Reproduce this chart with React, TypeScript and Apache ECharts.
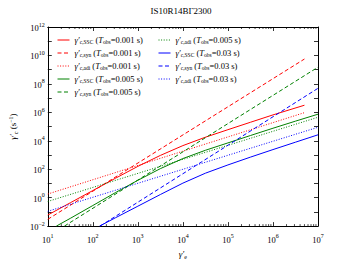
import React, { useEffect, useRef } from 'react';
import * as echarts from 'echarts';

const FONT = "'Liberation Serif', 'DejaVu Serif', serif";

// Red: T_obs = 0.001 s
const redSSCx = [10, 31.6, 100, 316, 1000, 3160, 1e4, 3.16e4, 1e5, 3.16e5, 1e6, 5e6];
const redSSCy = [0.06, 0.437, 3.16, 22.9, 158, 933, 4570, 1.78e4, 6.03e4, 2.0e5, 6.6e5, 3.16e6];
const redSynX = [10, 5e6];
const redSynY = [0.03, 5.6e9];
const redAdiX = [10, 5e6];
const redAdiY = [1.8, 9.5e5];
// Green: T_obs = 0.005 s
const greenSSCx = [15.5, 31.6, 100, 316, 1000, 3160, 1e4, 3.16e4, 1e5, 3.16e5, 1e6, 3.16e6, 1e7];
const greenSSCy = [0.01, 0.035, 0.28, 2.24, 16.6, 110, 562, 2140, 7080, 2.34e4, 7.6e4, 2.4e5, 7.4e5];
const greenSynX = [23.4, 1e7];
const greenSynY = [0.01, 1.5e9];
const greenAdiX = [10, 1e7];
const greenAdiY = [0.54, 4.5e5];
// Blue: T_obs = 0.03 s
const blueSSCx = [141, 316, 1000, 3160, 1e4, 3.16e4, 1e5, 3.16e5, 1e6, 3.16e6, 1e7];
const blueSSCy = [0.01, 0.038, 0.251, 1.66, 10.5, 52.5, 200, 708, 2400, 7940, 2.63e4];
const blueSynX = [145, 1e7];
const blueSynY = [0.01, 4.9e7];
const blueAdiX = [10, 1e7];
const blueAdiY = [0.11, 8.9e4];

const xLabelExps = [1, 2, 3, 4, 5, 6, 7];
const yLabelExps = [-2, 0, 2, 4, 6, 8, 10, 12];
const xMinorTicks = [
  20, 30, 40, 50, 60, 70, 80, 90,
  200, 300, 400, 500, 600, 700, 800, 900,
  2e3, 3e3, 4e3, 5e3, 6e3, 7e3, 8e3, 9e3,
  2e4, 3e4, 4e4, 5e4, 6e4, 7e4, 8e4, 9e4,
  2e5, 3e5, 4e5, 5e5, 6e5, 7e5, 8e5, 9e5,
  2e6, 3e6, 4e6, 5e6, 6e6, 7e6, 8e6, 9e6,
];

const kinds = ['SSC', 'syn', 'adi'];
const tobs = ['0.001', '0.005', '0.03'];
const colors = ['#ff0000', '#008000', '#0000ff'];
const dashes: any[] = ['solid', [4, 2.5], [1, 1.6]];
const dataSets = [
  [[redSSCx, redSSCy], [redSynX, redSynY], [redAdiX, redAdiY]],
  [[greenSSCx, greenSSCy], [greenSynX, greenSynY], [greenAdiX, greenAdiY]],
  [[blueSSCx, blueSSCy], [blueSynX, blueSynY], [blueAdiX, blueAdiY]],
];

const names: string[] = [];
const richNames: Record<string, string> = {};
const lineSeries: any[] = [];
tobs.forEach((t, ti) => {
  kinds.forEach((k, ki) => {
    const name = `γ′c,${k} (Tobs=${t} s)`;
    names.push(name);
    richNames[name] = `{g|γ′}{s|c,${k}}{n| (}{t|T}{s|obs}{n|=${t} s)}`;
    const [xs, ys] = dataSets[ti][ki];
    lineSeries.push({
      name,
      type: 'line',
      data: xs.map((x: number, i: number) => [x, ys[i]]),
      symbol: 'none',
      showSymbol: false,
      clip: true,
      lineStyle: { color: colors[ti], width: 1, type: dashes[ki] },
      itemStyle: { color: colors[ti] },
      z: 3,
    });
  });
});

const legendRich = {
  g: { fontFamily: FONT, fontSize: 8.5, fontStyle: 'italic', color: '#000', lineHeight: 10, verticalAlign: 'top' },
  t: { fontFamily: FONT, fontSize: 8.5, fontStyle: 'italic', color: '#000', lineHeight: 10, verticalAlign: 'top' },
  n: { fontFamily: FONT, fontSize: 8.5, color: '#000', lineHeight: 10, verticalAlign: 'top' },
  s: { fontFamily: FONT, fontSize: 5.5, color: '#000', lineHeight: 6, verticalAlign: 'bottom' },
};

const labelRich = {
  b: { fontFamily: FONT, fontSize: 8.5, color: '#000', lineHeight: 11, verticalAlign: 'bottom' },
  e: { fontFamily: FONT, fontSize: 6, color: '#000', lineHeight: 6, verticalAlign: 'top' },
};

const expStr = (e: number) => (e < 0 ? '−' + Math.abs(e) : String(e));
const xFormatter = (v: number) => {
  const e = Math.round(Math.log10(v));
  return xLabelExps.includes(e) ? `{b|10}{e|${expStr(e)}}` : '';
};
const yFormatter = (v: number) => {
  const e = Math.round(Math.log10(v));
  return yLabelExps.includes(e) ? `{b|10}{e|${expStr(e)}}` : '';
};

const axisCommon = {
  axisLine: { show: true, lineStyle: { color: '#000', width: 1 } },
  splitLine: { show: false },
};

const nameRich = {
  g: { fontFamily: FONT, fontSize: 9, fontStyle: 'italic', color: '#000', lineHeight: 11, verticalAlign: 'top' },
  n: { fontFamily: FONT, fontSize: 9, color: '#000', lineHeight: 11, verticalAlign: 'top' },
  s: { fontFamily: FONT, fontSize: 6, color: '#000', lineHeight: 6, verticalAlign: 'bottom' },
  p: { fontFamily: FONT, fontSize: 6, color: '#000', lineHeight: 6, verticalAlign: 'top' },
};

const tickStyle = { show: true, inside: true, length: 4, lineStyle: { color: '#000', width: 0.8 } };

const legendBase = {
  orient: 'vertical',
  itemWidth: 12,
  itemHeight: 9,
  itemGap: 3,
  selectedMode: false,
  itemStyle: { opacity: 0 },
  lineStyle: { width: 1 },
  formatter: (n: string) => richNames[n],
  textStyle: { rich: legendRich },
};

export default function App() {
  const ref = useRef<HTMLDivElement>(null);
  useEffect(() => {
    const chart = echarts.init(ref.current!, null, { renderer: 'svg' });
    const option: any = {
      animation: false,
      backgroundColor: '#fff',
      graphic: [
        {
          type: 'text',
          x: 181,
          y: 11,
          style: { text: 'IS10R14BΓ2300', fontFamily: FONT, fontSize: 9, fill: '#000', textAlign: 'center', textVerticalAlign: 'middle' },
        },
      ],
      grid: { left: 44, right: 35, top: 27, bottom: 28 },
      legend: [
        { ...legendBase, data: names.slice(0, 5), left: 52, top: 30 },
        { ...legendBase, data: names.slice(5), left: 153, top: 30 },
      ],
      xAxis: [
        {
          type: 'log', logBase: 10, min: 10, max: 1e7, interval: 1, splitNumber: 6, position: 'bottom',
          ...axisCommon,
          axisTick: tickStyle,
          axisLabel: { formatter: xFormatter, rich: labelRich, margin: 7 },
          name: '{g|γ′}{s|e}',
          nameLocation: 'middle',
          nameGap: 19,
          nameTextStyle: { rich: nameRich },
        },
        {
          type: 'log', logBase: 10, min: 10, max: 1e7, interval: 1, splitNumber: 6, position: 'top',
          ...axisCommon,
          axisTick: tickStyle,
          axisLabel: { show: false },
        },
      ],
      yAxis: [
        {
          type: 'log', logBase: 10, min: 0.01, max: 1e12, interval: 1, splitNumber: 14, position: 'left',
          ...axisCommon,
          axisTick: tickStyle,
          axisLabel: { formatter: yFormatter, rich: labelRich, margin: 3, showMinLabel: true, showMaxLabel: true },
          name: '{g|γ′}{s|c}{n| (s}{p|−1}{n|)}',
          nameLocation: 'middle',
          nameGap: 19,
          nameRotate: 90,
          nameTextStyle: { rich: nameRich },
        },
        {
          type: 'log', logBase: 10, min: 0.01, max: 1e12, interval: 1, splitNumber: 14, position: 'right',
          ...axisCommon,
          axisTick: tickStyle,
          axisLabel: { show: false },
        },
      ],
      series: [
        ...lineSeries,
        {
          type: 'custom',
          name: 'minorTicks',
          silent: true,
          data: xMinorTicks.map((v) => [v, 1]),
          encode: { x: 0, y: 1 },
          renderItem: (params: any, api: any) => {
            const x = api.coord([api.value(0), 1])[0];
            const cs = params.coordSys;
            const st = { stroke: '#000', lineWidth: 0.7 };
            return {
              type: 'group',
              children: [
                { type: 'line', shape: { x1: x, y1: cs.y + cs.height, x2: x, y2: cs.y + cs.height - 2 }, style: st },
                { type: 'line', shape: { x1: x, y1: cs.y, x2: x, y2: cs.y + 2 }, style: st },
              ],
            };
          },
        },
      ],
    };
    chart.setOption(option);
    return () => chart.dispose();
  }, []);
  return <div ref={ref} style={{ position: 'absolute', left: 0, top: 0, width: 353, height: 265 }} />;
}
